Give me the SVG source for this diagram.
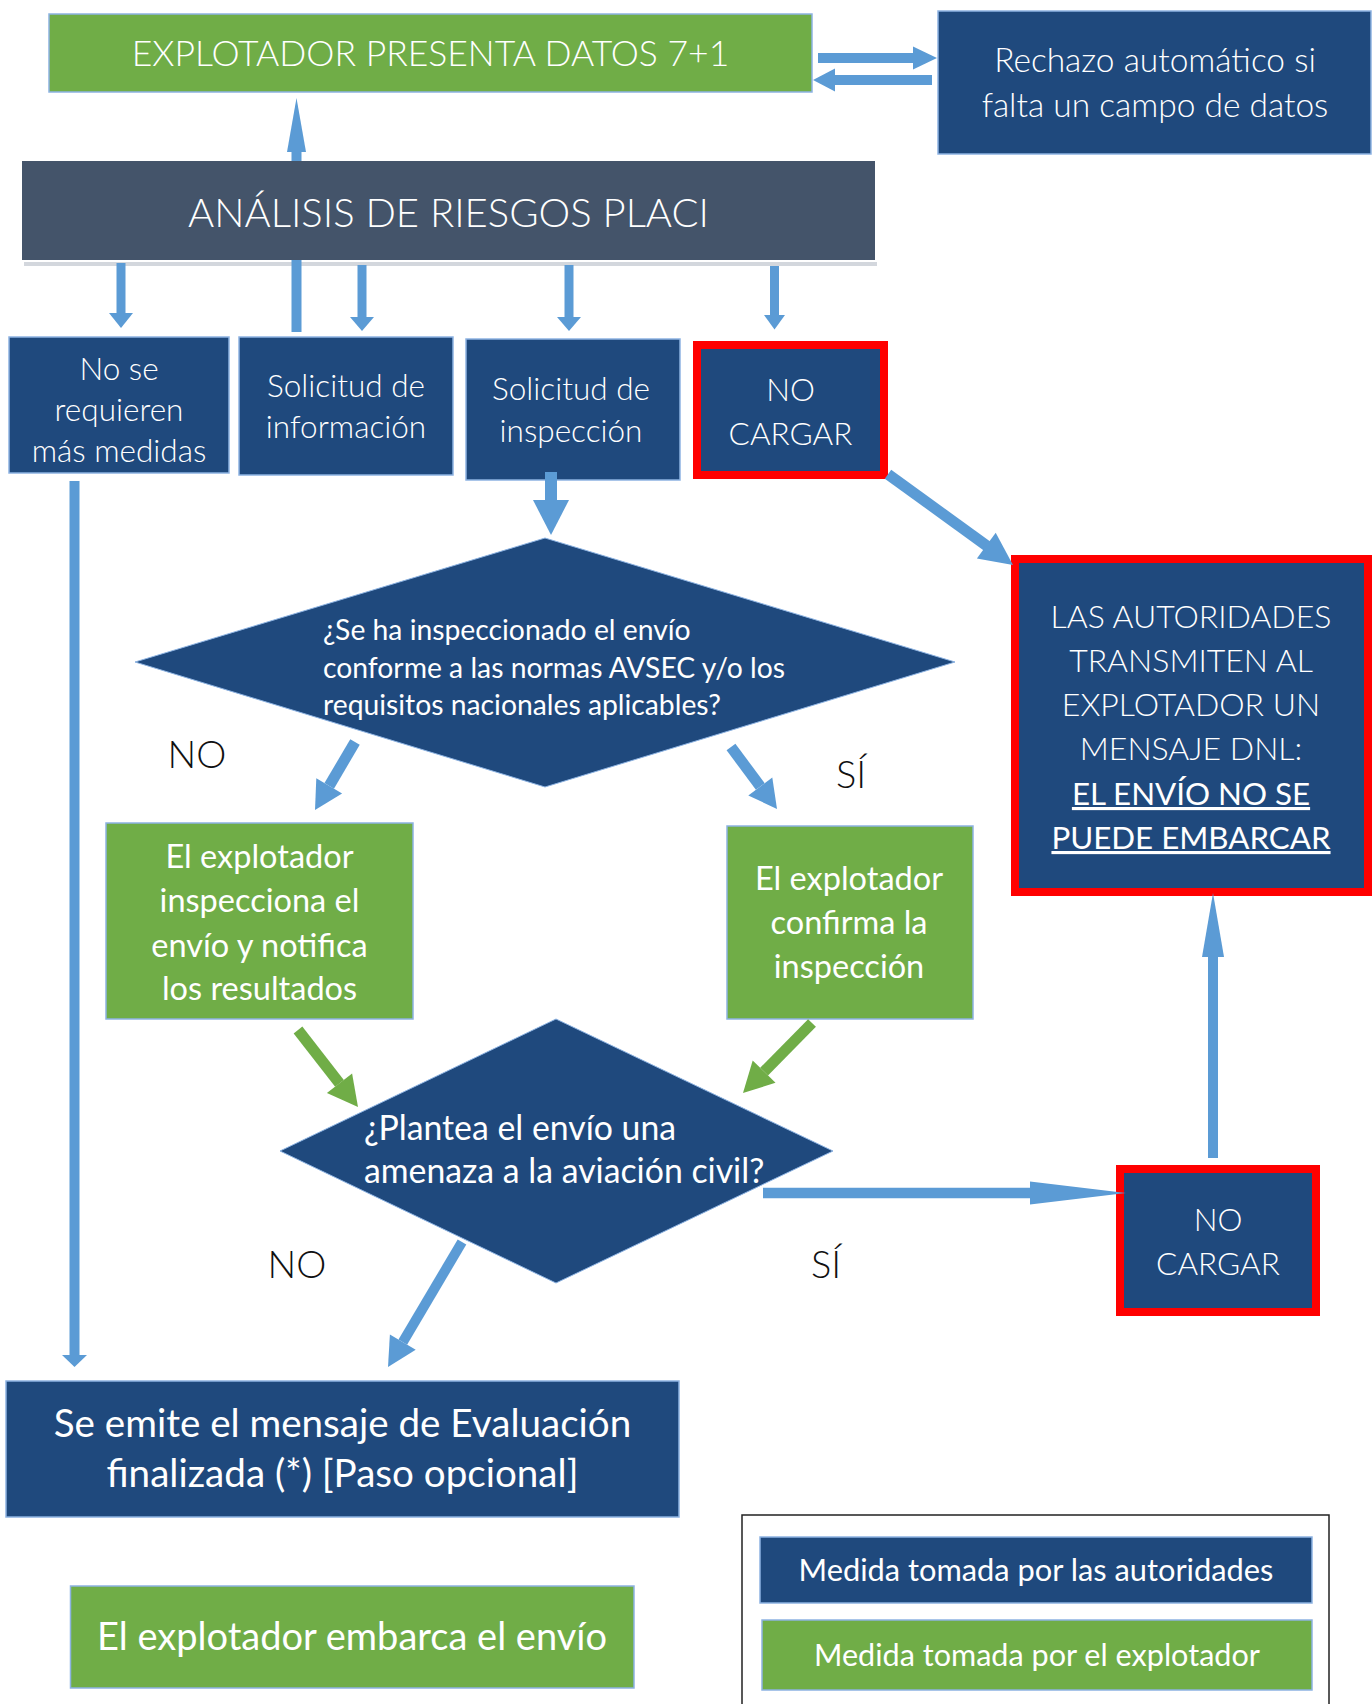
<svg xmlns="http://www.w3.org/2000/svg" width="1372" height="1704" viewBox="0 0 1372 1704">
<style>
.t{font-family:Lato,"Open Sans","Liberation Sans",sans-serif;fill:#fff;text-anchor:middle}
.l{font-weight:300}
.s{text-anchor:start}
.blue{fill:#1F497D;stroke:#8DB3E2;stroke-width:1.5}
.green{fill:#70AD47;stroke:#8DB3E2;stroke-width:1.5}
.slate{fill:#44546A}
.red{fill:#1F497D;stroke:#FF0000;stroke-width:8}
.dia{fill:#1F497D;stroke:#8DB3E2;stroke-width:1}
.lbl{fill:#111;font-weight:300;font-size:38px}
.sh{fill:none;stroke:#5B9BD5;stroke-width:10}
.hd{fill:#5B9BD5}
.gsh{fill:none;stroke:#70AD47;stroke-width:11}
.ghd{fill:#70AD47}
</style>
<rect width="1372" height="1704" fill="#fff"/>
<g id="nodes">
<g id="n-explotador-presenta">
<rect class="green" x="49" y="14" width="763" height="78"/>
<text class="t l" x="430.5" y="66" font-size="35.5">EXPLOTADOR PRESENTA DATOS 7+1</text>
</g>
<g id="n-rechazo">
<rect class="blue" x="938" y="11" width="433" height="143"/>
<text class="t l" x="1155" y="72" font-size="33.5">Rechazo automático si</text>
<text class="t l" x="1155" y="117" font-size="33.5">falta un campo de datos</text>
</g>
<g id="n-analisis">
<rect x="24" y="262" width="853" height="4" fill="#D3D7DD"/>
<rect class="slate" x="22" y="161" width="853" height="99"/>
<text class="t l" x="448.5" y="227" font-size="40">ANÁLISIS DE RIESGOS PLACI</text>
</g>
<g id="n-no-medidas">
<rect class="blue" x="9" y="337" width="220" height="136"/>
<text class="t l" x="119" y="380" font-size="31.5">No se</text>
<text class="t l" x="119" y="421" font-size="31.5">requieren</text>
<text class="t l" x="119" y="462" font-size="31.5">más medidas</text>
</g>
<g id="n-sol-info">
<rect class="blue" x="239" y="337" width="214" height="138"/>
<text class="t l" x="346" y="397" font-size="31.5">Solicitud de</text>
<text class="t l" x="346" y="438" font-size="31.5">información</text>
</g>
<g id="n-sol-insp">
<rect class="blue" x="466" y="339" width="214" height="141"/>
<text class="t l" x="571" y="400" font-size="31.5">Solicitud de</text>
<text class="t l" x="571" y="442" font-size="31.5">inspección</text>
</g>
<g id="n-no-cargar-1">
<rect class="red" x="697" y="345" width="187" height="130"/>
<text class="t l" x="790.5" y="401" font-size="31.5">NO</text>
<text class="t l" x="790.5" y="445" font-size="31.5">CARGAR</text>
</g>
<g id="n-autoridades-dnl">
<rect class="red" x="1015" y="559" width="353" height="333"/>
<text class="t l" x="1191" y="628" font-size="32">LAS AUTORIDADES</text>
<text class="t l" x="1191" y="672" font-size="32">TRANSMITEN AL</text>
<text class="t l" x="1191" y="716" font-size="32">EXPLOTADOR UN</text>
<text class="t l" x="1191" y="760" font-size="32">MENSAJE DNL:</text>
<text class="t" x="1191" y="805" font-size="31.3" text-decoration="underline">EL ENVÍO NO SE</text>
<text class="t" x="1191" y="849" font-size="31.3" text-decoration="underline">PUEDE EMBARCAR</text>
</g>
<g id="n-decision-1">
<polygon class="dia" points="545,538 135,662 545,787 955,662"/>
<text class="t s" x="323" y="640" font-size="28.3">¿Se ha inspeccionado el envío</text>
<text class="t s" x="323" y="678" font-size="28.3">conforme a las normas AVSEC y/o los</text>
<text class="t s" x="323" y="715" font-size="28.3">requisitos nacionales aplicables?</text>
</g>
<g id="lbl-no-1"><text class="t lbl" x="197" y="768">NO</text></g>
<g id="lbl-si-1"><text class="t lbl" x="851" y="788">SÍ</text></g>
<g id="n-inspecciona">
<rect class="green" x="106" y="823" width="307" height="196"/>
<text class="t" x="259.5" y="868" font-size="32.5">El explotador</text>
<text class="t" x="259.5" y="912" font-size="32.5">inspecciona el</text>
<text class="t" x="259.5" y="957" font-size="32.5">envío y notifica</text>
<text class="t" x="259.5" y="1000" font-size="32.5">los resultados</text>
</g>
<g id="n-confirma">
<rect class="green" x="727" y="826" width="246" height="193"/>
<text class="t" x="849" y="890" font-size="32.5">El explotador</text>
<text class="t" x="849" y="934" font-size="32.5">confirma la</text>
<text class="t" x="849" y="978" font-size="32.5">inspección</text>
</g>
<g id="n-decision-2">
<polygon class="dia" points="556,1019 280,1151 556,1283 833,1151"/>
<text class="t s" x="364" y="1140" font-size="33.8">¿Plantea el envío una</text>
<text class="t s" x="364" y="1183" font-size="33.8">amenaza a la aviación civil?</text>
</g>
<g id="lbl-no-2"><text class="t lbl" x="297" y="1278">NO</text></g>
<g id="lbl-si-2"><text class="t lbl" x="826" y="1278">SÍ</text></g>
<g id="n-no-cargar-2">
<rect class="red" x="1120" y="1169" width="196" height="143"/>
<text class="t l" x="1218" y="1231" font-size="31.5">NO</text>
<text class="t l" x="1218" y="1275" font-size="31.5">CARGAR</text>
</g>
<g id="n-evaluacion">
<rect class="blue" x="6" y="1381" width="673" height="136"/>
<text class="t" x="342.5" y="1437" font-size="38.6">Se emite el mensaje de Evaluación</text>
<text class="t" x="342.5" y="1487" font-size="38.6">finalizada (*)  [Paso opcional]</text>
</g>
<g id="n-embarca">
<rect class="green" x="70.5" y="1586" width="563.5" height="102"/>
<text class="t" x="352" y="1650" font-size="38">El explotador embarca el envío</text>
</g>
<g id="legend">
<rect x="742" y="1515" width="587" height="220" fill="none" stroke="#222" stroke-width="1.5"/>
<rect class="blue" x="760" y="1537" width="552" height="66"/>
<text class="t" x="1036" y="1581" font-size="30.8">Medida tomada por las autoridades</text>
<rect class="green" x="762" y="1620" width="550" height="70"/>
<text class="t" x="1037" y="1666" font-size="30.6">Medida tomada por el explotador</text>
</g>
</g>
<g id="connectors">
<path class="sh" d="M818 58H913"/><polygon class="hd" points="913,46.5 937,58 913,69.5"/>
<path class="sh" d="M932 80H835"/><polygon class="hd" points="835,68.5 813,80 835,91.5"/>
<path class="sh" d="M296.5 332V260M296.5 161V150"/><polygon class="hd" points="287,152 296.5,98 306,152"/>
<path class="sh" d="M121 263V314" style="stroke-width:9"/><polygon class="hd" points="109,313 121,328 133,313"/>
<path class="sh" d="M362 265V318" style="stroke-width:9"/><polygon class="hd" points="350,317 362,331 374,317"/>
<path class="sh" d="M569 265V318" style="stroke-width:9"/><polygon class="hd" points="557,317 569,331 581,317"/>
<path class="sh" d="M774.5 266V316" style="stroke-width:9"/><polygon class="hd" points="764,315 774.5,329.5 785,315"/>
<path class="sh" d="M551 472V501" style="stroke-width:12"/><polygon class="hd" points="533,500 551,535 569,500"/>
<path class="sh" d="M888 474.2L987 546" style="stroke-width:11"/><polygon class="hd" points="976.9,558.5 1013,565 995.7,532.7"/>
<path class="sh" d="M355 742L329.2 785.9" style="stroke-width:11"/><polygon class="hd" points="316.3,778.3 315,810 342.1,793.5"/>
<path class="sh" d="M731 747L760.3 786.5" style="stroke-width:11"/><polygon class="hd" points="748.3,795.4 777,809 772.3,777.6"/>
<path class="gsh" d="M298 1030L339.5 1083.3"/><polygon class="ghd" points="326.9,1093.1 358,1107 352.1,1073.5"/>
<path class="gsh" d="M812 1023L764.1 1071.6"/><polygon class="ghd" points="752.7,1060.4 743,1093 775.5,1082.8"/>
<path class="sh" d="M763 1193H1031" style="stroke-width:10.5"/><polygon class="hd" points="1030,1181.5 1126,1193 1030,1204.5"/>
<path class="sh" d="M462 1242L402.8 1342.1"/><polygon class="hd" points="389.9,1334.5 388,1367 415.7,1349.7"/>
<path class="sh" d="M74.5 481V1356"/><polygon class="hd" points="62,1355 74.5,1367 87,1355"/>
<path class="sh" d="M1213 1158V956"/><polygon class="hd" points="1202,957 1213,893 1224,957"/>
</g>
</svg>
